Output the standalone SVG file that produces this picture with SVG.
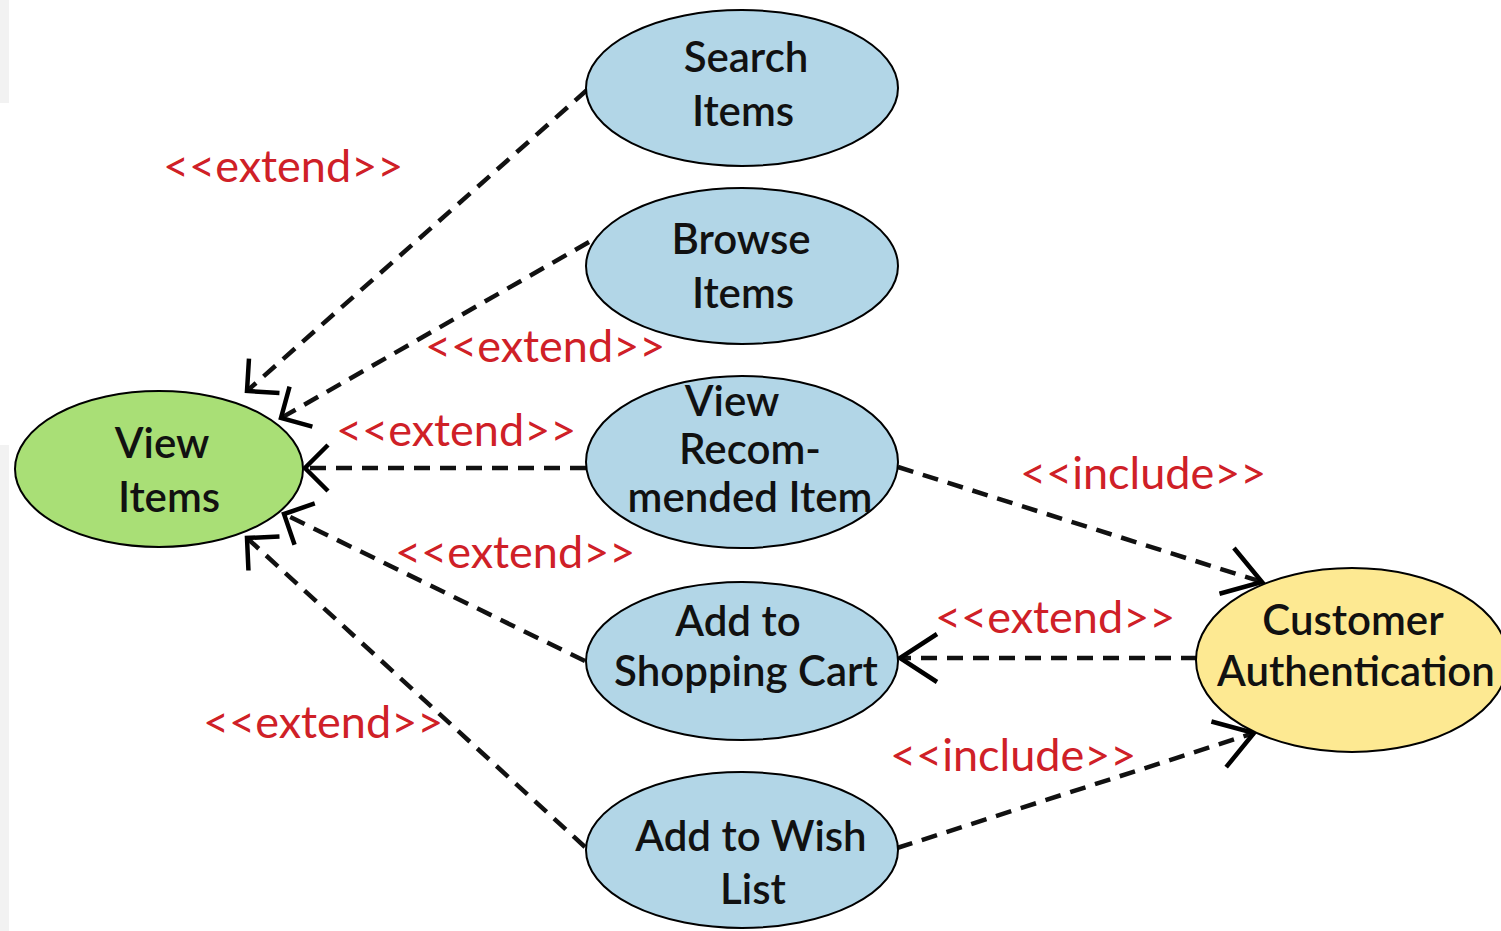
<svg xmlns="http://www.w3.org/2000/svg" width="1501" height="931" viewBox="0 0 1501 931">
  <defs>
    <style>
      .uc { stroke: #000; stroke-width: 2; }
      .blue { fill: #b2d6e7; }
      .green { fill: #a9df76; }
      .yellow { fill: #fde992; }
      .nt { font-family: Lato, "Open Sans", "Liberation Sans", sans-serif; font-weight: 600; font-size: 42px; fill: #111; text-anchor: middle; }
      .lbl { font-family: Lato, "Open Sans", "Liberation Sans", sans-serif; font-weight: 400; font-size: 45px; fill: #cf2027; }
      .dash { fill: none; stroke: #111; stroke-width: 4.5; stroke-dasharray: 16 10; }
      .head { fill: none; stroke: #000; stroke-width: 4.5; stroke-dasharray: none; stroke-linecap: butt; stroke-linejoin: miter; }
    </style>
    <marker id="arrS" markerUnits="userSpaceOnUse" markerWidth="60" markerHeight="60" viewBox="-45 -30 60 60" refX="0" refY="0" orient="auto">
      <path class="head" d="M -23 -23 L 0 0 L -23 23"/>
    </marker>
    <marker id="arrL" markerUnits="userSpaceOnUse" markerWidth="60" markerHeight="60" viewBox="-45 -30 60 60" refX="0" refY="0" orient="auto">
      <path class="head" d="M -37 -24 L 0 0 L -37 24"/>
    </marker>
  </defs>

  <rect x="0" y="0" width="1501" height="931" fill="#ffffff"/>
  <rect x="0" y="0" width="9" height="103" fill="#f2f2f2"/>
  <rect x="0" y="445" width="9" height="486" fill="#f2f2f2"/>

  <g id="connectors">
    <path class="dash" d="M 587 90 L 247 391" marker-end="url(#arrS)"/>
    <path class="dash" d="M 589 242 L 281 418" marker-end="url(#arrS)"/>
    <path class="dash" d="M 586 468 L 305 468" marker-end="url(#arrS)"/>
    <path class="dash" d="M 585 661 L 284 514" marker-end="url(#arrS)"/>
    <path class="dash" d="M 585 847 L 247 538" marker-end="url(#arrS)"/>
    <path class="dash" d="M 898 467 L 1262 582" marker-end="url(#arrL)"/>
    <path class="dash" d="M 1197 658 L 900 658" marker-end="url(#arrL)"/>
    <path class="dash" d="M 897 848 L 1254 733" marker-end="url(#arrL)"/>
  </g>

  <g id="labels">
    <text class="lbl" x="163" y="182">&lt;&lt;extend&gt;&gt;</text>
    <text class="lbl" x="425" y="362">&lt;&lt;extend&gt;&gt;</text>
    <text class="lbl" x="336" y="446">&lt;&lt;extend&gt;&gt;</text>
    <text class="lbl" x="395" y="568">&lt;&lt;extend&gt;&gt;</text>
    <text class="lbl" x="203" y="738">&lt;&lt;extend&gt;&gt;</text>
    <text class="lbl" x="1020" y="489">&lt;&lt;include&gt;&gt;</text>
    <text class="lbl" x="935" y="633">&lt;&lt;extend&gt;&gt;</text>
    <text class="lbl" x="890" y="771">&lt;&lt;include&gt;&gt;</text>
  </g>

  <g id="view-items">
    <ellipse class="uc green" cx="159" cy="469" rx="144" ry="78"/>
    <text class="nt" x="162" y="458">View</text>
    <text class="nt" x="169" y="512">Items</text>
  </g>

  <g id="search-items">
    <ellipse class="uc blue" cx="742" cy="88" rx="156" ry="78"/>
    <text class="nt" x="746" y="72">Search</text>
    <text class="nt" x="743" y="126">Items</text>
  </g>

  <g id="browse-items">
    <ellipse class="uc blue" cx="742" cy="266" rx="156" ry="78"/>
    <text class="nt" x="741" y="254">Browse</text>
    <text class="nt" x="743" y="308">Items</text>
  </g>

  <g id="view-recommended-item">
    <ellipse class="uc blue" cx="742" cy="462" rx="156" ry="86"/>
    <text class="nt" x="732" y="416">View</text>
    <text class="nt" x="750" y="464">Recom-</text>
    <text class="nt" x="750" y="512">mended Item</text>
  </g>

  <g id="add-to-shopping-cart">
    <ellipse class="uc blue" cx="742" cy="661" rx="156" ry="79"/>
    <text class="nt" x="738" y="636">Add to</text>
    <text class="nt" x="746" y="686">Shopping Cart</text>
  </g>

  <g id="add-to-wish-list">
    <ellipse class="uc blue" cx="742" cy="850" rx="156" ry="78"/>
    <text class="nt" x="751" y="851">Add to Wish</text>
    <text class="nt" x="753" y="904">List</text>
  </g>

  <g id="customer-authentication">
    <ellipse class="uc yellow" cx="1352" cy="660" rx="156" ry="92"/>
    <text class="nt" x="1353" y="635">Customer</text>
    <text class="nt" x="1356" y="686">Authentication</text>
  </g>
</svg>
